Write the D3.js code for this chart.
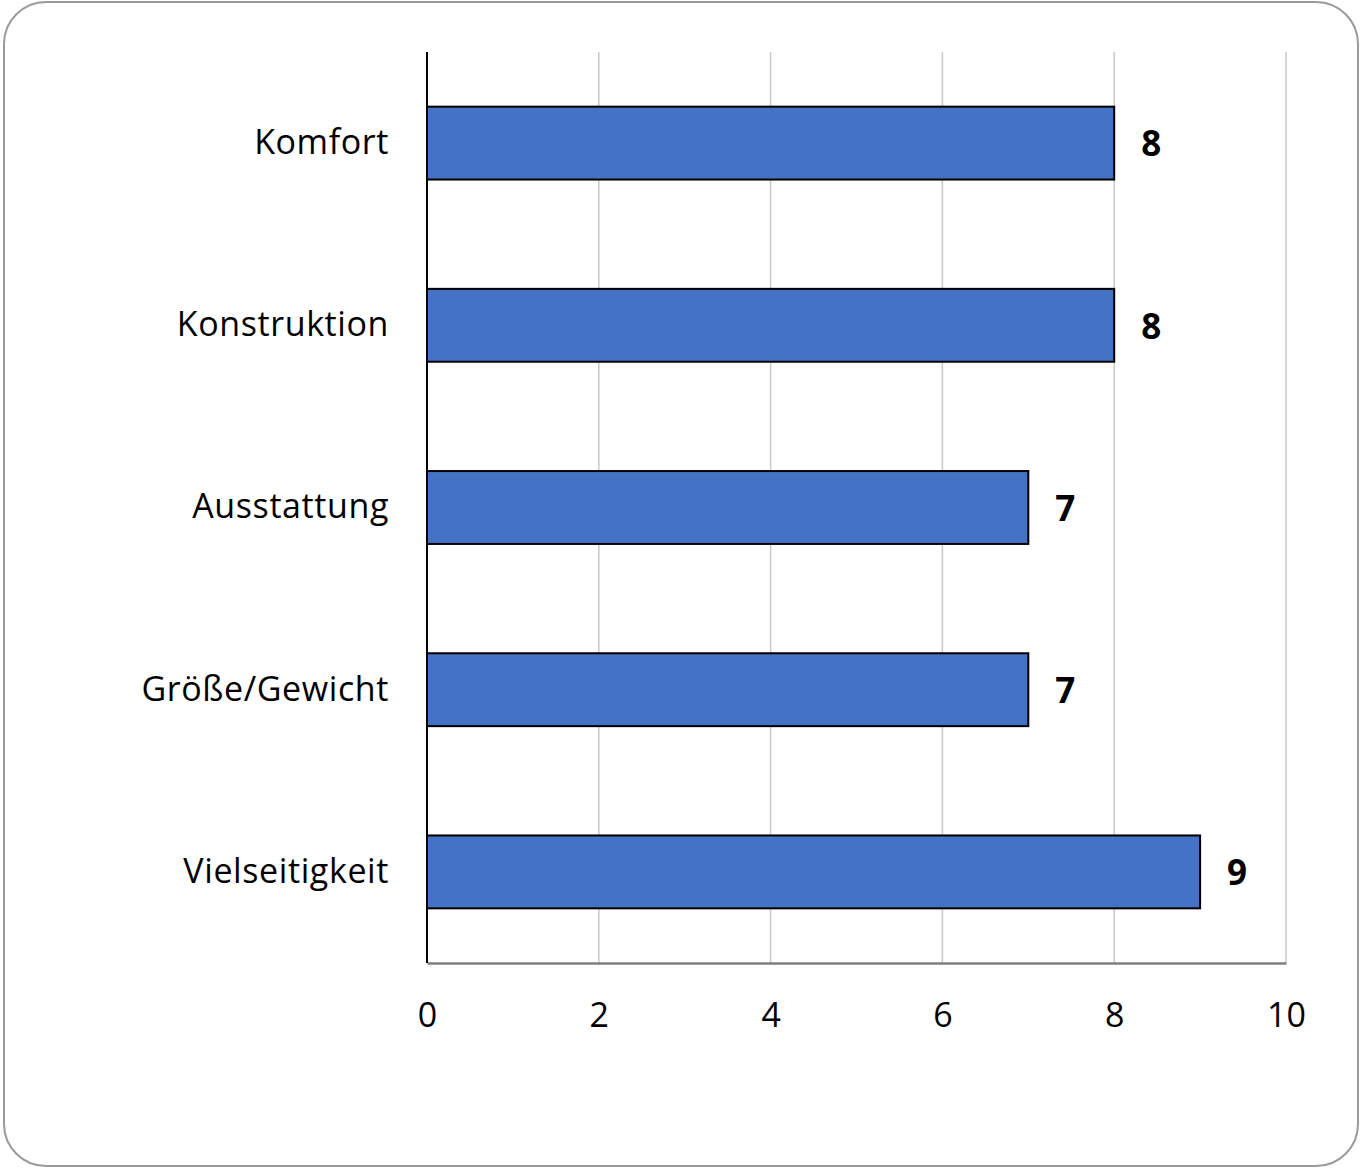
<!DOCTYPE html>
<html><head><meta charset="utf-8">
<script src="https://cdn.jsdelivr.net/npm/d3@7"></script>
<style>html,body{margin:0;padding:0;background:#fff;}</style>
</head><body>
<svg id="c" width="1365" height="1173"></svg>
<script>
const categories = ["Komfort", "Konstruktion", "Ausstattung", "Größe/Gewicht", "Vielseitigkeit"];
const values = [8, 8, 7, 7, 9];
const tickValues = [0, 2, 4, 6, 8, 10];

(function () {
const svg = d3.select("#c");
const font = "'Open Sans', Lato, sans-serif";
const pL = 427, pR = 1286, pT = 52, pB = 963;

svg.append("rect").attr("x", 4).attr("y", 2).attr("width", 1354).attr("height", 1164)
  .attr("rx", 42).attr("fill", "#fff").attr("stroke", "#9a9a9a").attr("stroke-width", 2);

const x = d3.scaleLinear().domain([0, 10]).range([pL, pR]);
const y = d3.scaleBand().domain(categories).range([pT, pB]).paddingInner(0.6).paddingOuter(0.3);

// grid
svg.append("g").selectAll("line").data(tickValues.filter(d => d > 0)).join("line")
  .attr("x1", d => x(d)).attr("x2", d => x(d)).attr("y1", pT).attr("y2", pB)
  .attr("stroke", "#c8c8c8").attr("stroke-width", 1.5);

// x axis
const xa = svg.append("g").attr("transform", `translate(0,${pB})`)
  .call(d3.axisBottom(x).tickValues(tickValues).tickSize(0).tickPadding(40).tickFormat(d3.format("d")));
xa.select(".domain").attr("stroke", "#7f7f7f").attr("stroke-width", 2.5);
xa.selectAll("text").attr("font-family", font).attr("font-size", 34).attr("fill", "#000");

// bars
svg.append("g").selectAll("rect").data(values).join("rect")
  .attr("x", x(0)).attr("y", (d, i) => y(categories[i]))
  .attr("width", d => x(d) - x(0)).attr("height", y.bandwidth())
  .attr("fill", "#4472c4").attr("stroke", "#000").attr("stroke-width", 2);

// y axis
const ya = svg.append("g").attr("transform", `translate(${pL},0)`)
  .call(d3.axisLeft(y).tickSize(0).tickPadding(38));
ya.select(".domain").attr("stroke", "#000").attr("stroke-width", 2).attr("d", `M0,${pT}V${pB}`);
ya.selectAll("text").attr("font-family", font).attr("font-size", 34).attr("letter-spacing", 0.6).attr("fill", "#000");

// value labels
svg.append("g").selectAll("text").data(values).join("text")
  .attr("x", d => x(d) + 27).attr("y", (d, i) => y(categories[i]) + y.bandwidth() / 2 + 1)
  .attr("dy", "0.35em").attr("font-family", font).attr("font-size", 35).attr("font-weight", "bold")
  .text(d => d);
})();
</script>
</body></html>
